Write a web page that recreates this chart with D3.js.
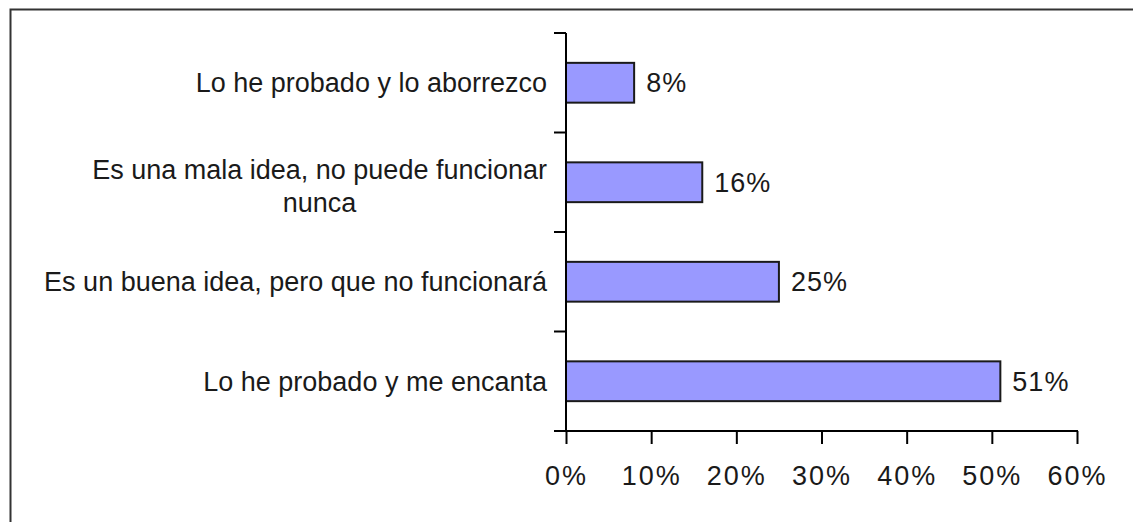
<!DOCTYPE html>
<html>
<head>
<meta charset="utf-8">
<script src="https://cdn.jsdelivr.net/npm/d3@7/dist/d3.min.js"></script>
<style>
  html, body { margin: 0; padding: 0; background: #fff; }
  svg { display: block; }
  text { font-family: Arial, "Liberation Sans", sans-serif; fill: #1a1a1a; }
</style>
</head>
<body>
<svg id="chart" width="1133" height="522"></svg>
<script>
const categories = [
  "Lo he probado y lo aborrezco",
  "Es una mala idea, no puede funcionar nunca",
  "Es un buena idea, pero que no funcionará",
  "Lo he probado y me encanta"
];
const values = [8, 16, 25, 51];
const tickValues = [0, 10, 20, 30, 40, 50, 60];

const svg = d3.select("#chart");
const W = 1133, H = 522;
svg.append("rect").attr("width", W).attr("height", H).attr("fill", "#fff");

// frame (top and left edges visible)
svg.append("path")
  .attr("d", `M10.5,${H} V9.5 H${W}`)
  .attr("fill", "none").attr("stroke", "#333").attr("stroke-width", 2);

const x0 = 566, x1 = 1077, yTop = 33, yBot = 431;
const x = d3.scaleLinear().domain([0, 60]).range([x0, x1]);
const y = d3.scaleBand().domain(categories).range([yTop, yBot])
  .paddingInner(0.6).paddingOuter(0.3);

const fontSize = 27;

// bars
svg.append("g").selectAll("rect").data(categories).join("rect")
  .attr("x", x(0))
  .attr("y", d => y(d))
  .attr("width", (d, i) => x(values[i]) - x(0))
  .attr("height", y.bandwidth())
  .attr("fill", "#9999ff")
  .attr("stroke", "#1a1a1a")
  .attr("stroke-width", 2);

// value labels
svg.append("g").selectAll("text").data(categories).join("text")
  .attr("x", (d, i) => x(values[i]) + 12)
  .attr("y", d => y(d) + y.bandwidth() / 2)
  .attr("dy", "0.35em")
  .attr("font-size", fontSize)
  .attr("letter-spacing", 1)
  .text((d, i) => values[i] + "%");

// y axis line + category ticks at band boundaries
const yAxisG = svg.append("g");
yAxisG.append("line")
  .attr("x1", x0).attr("x2", x0).attr("y1", yTop).attr("y2", yBot)
  .attr("stroke", "#000").attr("stroke-width", 2);
const boundaries = d3.range(categories.length + 1).map(i => yTop + i * (yBot - yTop) / categories.length);
yAxisG.selectAll("line.tk").data(boundaries).join("line").attr("class", "tk")
  .attr("x1", x0 - 12).attr("x2", x0).attr("y1", d => d).attr("y2", d => d)
  .attr("stroke", "#000").attr("stroke-width", 2);

// x axis
const xAxis = d3.axisBottom(x).tickValues(tickValues)
  .tickFormat(d => d + "%").tickSize(13).tickPadding(22);
const xg = svg.append("g").attr("transform", `translate(0,${yBot})`).call(xAxis);
xg.select(".domain").remove();
xg.selectAll(".tick line").attr("stroke", "#000").attr("stroke-width", 2);
xg.selectAll(".tick text").attr("font-size", fontSize)
  .attr("letter-spacing", 2)
  .attr("font-family", "Arial, 'Liberation Sans', sans-serif").attr("fill", "#1a1a1a");
xg.append("line").attr("x1", x0 - 11).attr("x2", x1 + 1).attr("y1", 0).attr("y2", 0)
  .attr("stroke", "#000").attr("stroke-width", 2);

// category labels with wrapping
const labelRight = 547, maxW = 520, lineH = 33;
const lg = svg.append("g");
categories.forEach(cat => {
  const words = cat.split(" ");
  const t = lg.append("text").attr("font-size", fontSize);
  const lines = [];
  let cur = [];
  words.forEach(w => {
    const trial = cur.concat([w]).join(" ");
    t.text(trial);
    if (t.node().getComputedTextLength() > maxW && cur.length) {
      lines.push(cur.join(" "));
      cur = [w];
    } else cur.push(w);
  });
  lines.push(cur.join(" "));
  const widths = lines.map(l => { t.text(l); return t.node().getComputedTextLength(); });
  t.text(null);
  const blockW = d3.max(widths);
  const cx = labelRight - blockW / 2;
  const cy = y(cat) + y.bandwidth() / 2 + (lines.length > 1 ? 4 : 0);
  const startY = cy - (lines.length - 1) * lineH / 2;
  t.attr("text-anchor", "middle");
  lines.forEach((l, i) => {
    t.append("tspan").attr("x", cx).attr("y", startY + i * lineH).attr("dy", "0.35em").text(l);
  });
});
</script>
</body>
</html>
